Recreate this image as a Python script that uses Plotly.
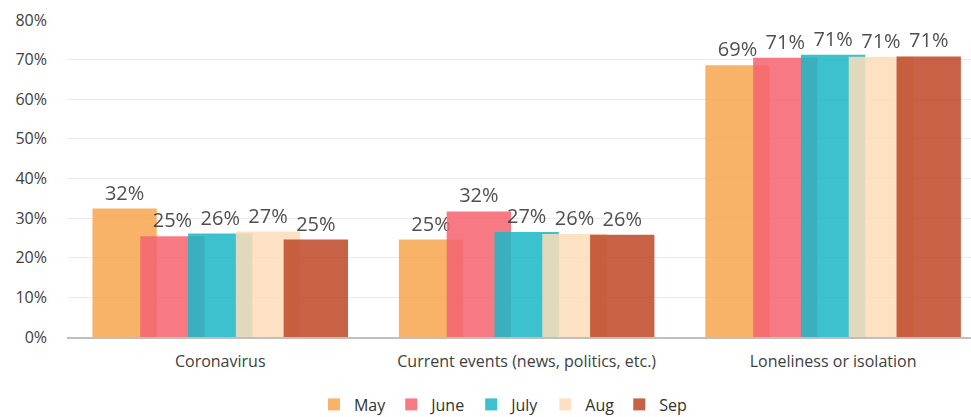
import plotly.graph_objects as go

categories = ["Coronavirus", "Current events (news, politics, etc.)", "Loneliness or isolation"]
months = ["May", "June", "July", "Aug", "Sep"]
may = [32.4, 24.6, 68.6]
june = [25.4, 31.7, 70.5]
july = [26.1, 26.5, 71.2]
aug = [26.6, 26.0, 70.7]
sep = [24.6, 25.8, 70.8]
series = [may, june, july, aug, sep]
colors = ["#F9A750", "#F56470", "#1DB9C6", "#FDDCBA", "#BE4928"]

FONT = "Open Sans"
bar_w = 0.21
step = 0.156
start = -(4 * step + bar_w) / 2

fig = go.Figure()
for i, (name, vals) in enumerate(zip(months, series)):
    fig.add_trace(go.Bar(
        x=categories, y=vals, name=name,
        marker=dict(color=colors[i], line=dict(width=0)),
        opacity=0.86,
        width=bar_w, offset=start + i * step,
        texttemplate="%{y:.0f}%", textposition="outside",
        textfont=dict(family=FONT, size=20, color="#333333"),
        cliponaxis=False,
    ))

fig.update_layout(
    width=971, height=417,
    barmode="overlay",
    plot_bgcolor="white", paper_bgcolor="white",
    margin=dict(l=67, r=0, t=20, b=80),
    font=dict(family=FONT, color="#595959"),
    showlegend=True,
    legend=dict(
        orientation="h", xref="container", yref="container",
        x=0.518, xanchor="center", y=0.03, yanchor="middle",
        font=dict(family=FONT, size=16, color="#333333"),
        itemwidth=30, tracegroupgap=0,
    ),
    xaxis=dict(
        type="category", range=[-0.5, 2.45],
        showgrid=False, showline=True, linecolor="#BFBFBF", linewidth=1.5,
        tickfont=dict(family=FONT, size=16, color="#404040"),
        ticks="", ticklabelstandoff=9,
    ),
    yaxis=dict(
        range=[0, 80], dtick=10, ticksuffix="%",
        showgrid=True, gridcolor="#EAEAEA", gridwidth=1,
        zeroline=False, showline=False,
        tickfont=dict(family=FONT, size=16, color="#404040"),
        ticks="", ticklabelstandoff=19,
    ),
)

fig.write_html("out.html")
